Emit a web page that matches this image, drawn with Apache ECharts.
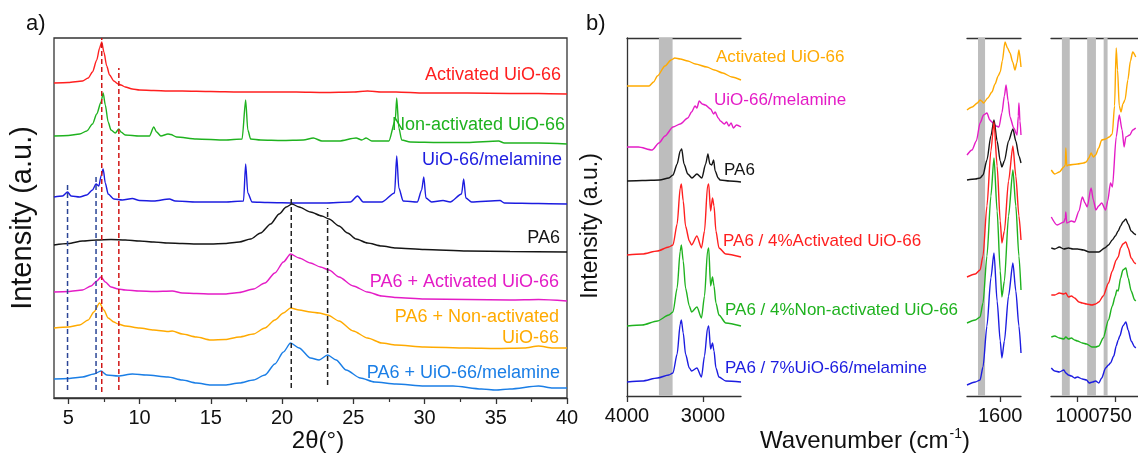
<!DOCTYPE html>
<html>
<head>
<meta charset="utf-8">
<title>XRD and FTIR of PA6 / UiO-66</title>
<script src="https://cdn.jsdelivr.net/npm/echarts@6/dist/echarts.min.js"></script>
<style>
  html, body { margin: 0; padding: 0; background: #fff; }
  #chart { width: 1138px; height: 455px; }
</style>
</head>
<body>
<div id="chart"></div>
<script>
// ---------- a) XRD patterns: [2θ, stacked intensity] ----------
const xrdActivated = [[4,315],[5,315.5],[6,317],[6.4,320],[6.7,326],[7.0,338],[7.2,350],[7.35,356],[7.5,346],[7.7,332],[7.9,323],[8.2,317],[8.5,314],[8.7,313],[9,311],[9.5,309],[10,308],[11,307.5],[12,307],[13,307],[15,306.5],[17,306],[19,306],[21,306],[23,305.5],[25,306],[26,307],[27,306],[28,306],[30,305],[33,305],[36,304.5],[38,304.5],[40,304]];
const xrdNonActivated = [[4,262],[5,262.5],[5.8,264],[6.3,267],[6.7,274],[7.0,284],[7.3,296],[7.45,305],[7.6,293],[7.8,276],[8.0,268],[8.3,265],[8.55,269],[8.7,266],[9,263],[10,262],[10.7,262],[11.0,271],[11.2,266],[11.5,262],[12.0,264],[12.2,263.5],[12.6,261],[14,259],[16,258],[17.2,259],[17.45,298],[17.6,268],[17.8,259],[18.5,258],[20,257.5],[21.5,258],[22.2,260],[22.8,257],[24,257],[25.2,260],[25.6,258],[25.9,260],[26.3,257],[27.5,257],[27.95,278],[28.05,300],[28.2,270],[28.4,258],[29,256],[31,255.5],[33,255.5],[35.2,257],[35.6,255],[38,255],[40,254]];
const xrdMelamine = [[4,201],[4.6,202],[4.95,206],[5.2,202],[5.8,201],[6.3,203],[6.7,208],[6.95,214],[7.15,212],[7.3,222],[7.45,229],[7.6,215],[7.8,204],[8.2,199],[8.8,198],[9.5,199.5],[10,197.5],[11,197],[12.1,199],[12.5,197],[14,196],[16,196],[17.3,197],[17.45,234],[17.6,205],[17.9,196],[19,195.5],[21,195],[23,195],[24.8,196],[25.3,202],[25.7,196],[27,196],[27.9,205],[28.05,242],[28.2,210],[28.5,197],[29.5,196],[29.8,208],[29.95,221],[30.1,200],[30.5,196],[31.3,197.5],[31.8,196],[32.6,204],[32.75,219],[32.9,200],[33.3,196],[35.3,197.5],[35.6,195],[38,194.5],[40,194]];
const xrdPA6 = [[4,153],[5,154.5],[6,157],[7,158],[8,158.5],[9,158],[10,157],[11,156],[12,155],[13,154.5],[14,154],[15,154],[16,154.5],[17,156],[17.8,159],[18.5,165],[19.2,174],[19.8,184],[20.3,191],[20.7,194],[21.2,191],[22,186],[22.8,182],[23.3,179],[24,172],[24.6,165],[25.2,159],[26,155],[27,152],[28,150],[30,148.5],[33,147],[36,146.5],[40,146]];
const xrdPA6Activated = [[4,106],[5,106.5],[6,108],[6.6,112],[7.0,117],[7.3,121],[7.6,116],[8,111],[8.5,109],[9,108],[10,107],[11,106.5],[12.3,107],[13,105],[14,104.5],[15,104],[16,104],[17,105.5],[18,109],[18.8,115],[19.5,125],[20.1,136],[20.6,144],[21.2,140],[22,135],[22.7,131],[23.3,128],[24,121],[25,112],[26,106],[27,102],[28,100.5],[30,99],[33,98.5],[36,98],[38,98.5],[40,97]];
const xrdPA6NonActivated = [[4,70],[5,71],[5.8,73],[6.4,78],[6.8,86],[7.2,95],[7.5,88],[7.8,80],[8.2,76],[8.5,74],[9,72],[10,70],[11,68],[12,66.5],[12.3,67],[13,64],[14,61],[15,58],[16,58.5],[17,61],[18,64],[18.8,70],[19.5,78],[20.1,85],[20.6,90],[21.2,88],[22,86],[22.6,85],[23.2,83],[24,77],[25,67],[26,60],[27,55],[28,53],[30,51],[33,50],[35,49.5],[37,50],[38,52],[39,50],[40,50]];
const xrdPA6Melamine = [[4,19],[5,19.5],[6,21],[6.8,24],[7.3,27],[7.7,23],[8.5,22],[9.5,24],[10.5,23],[12,21],[13,18],[14,15],[15,13],[16,13],[17,15],[18,18],[18.8,23],[19.5,34],[20.1,46],[20.6,55],[21.2,50],[22,40],[22.6,38],[23.2,43],[23.8,38],[24.5,28],[25.5,20],[26.5,16],[28,14],[30,12],[32,12],[34,9],[35,8],[36,9],[38,12],[39,10],[40,10]];

// reference positions: [2θ, lower end, upper end]
const refMelamine = [[4.95,8,215],[6.95,8,222]];
const refUiO = [[7.35,6,360],[8.55,8,330]];
const refPA6 = [[20.65,10,200],[23.2,13,190]];

const xrdTicks = [5,10,15,20,25,30,35,40];
const xrdMinorTicks = [7.5,12.5,17.5,22.5,27.5,32.5,37.5];

// ---------- b) FTIR spectra: [wavenumber, stacked intensity] ----------
const irHiActivated = [[4000,310],[3710,310],[3650,314],[3600,320],[3500,330],[3420,336],[3370,338],[3300,337],[3200,335],[3100,332],[2950,329],[2850,326],[2740,323],[2620,319],[2500,316]];
const irHiMelamine = [[4000,249],[3850,249],[3670,246],[3580,253],[3500,260],[3395,269],[3300,272],[3200,278],[3150,284],[3105,290],[3080,288],[3050,295],[3010,292],[2970,291],[2900,287],[2860,282],[2840,284],[2800,278],[2770,275],[2720,272],[2690,274],[2660,270],[2630,273],[2600,268],[2560,271],[2500,269]];
const irHiPA6 = [[4000,215],[3800,215.5],[3570,216],[3450,218],[3395,221],[3340,232],[3300,245],[3280,247],[3250,232],[3200,222],[3145,218],[3080,222],[3015,218],[2965,232],[2935,242],[2910,232],[2885,231],[2860,236],[2840,225],[2800,218],[2775,216],[2650,215],[2500,214]];
const irHiPA6Act = [[4000,141],[3800,142],[3600,145],[3450,149],[3395,151],[3340,172],[3300,208],[3285,212],[3260,195],[3230,170],[3180,155],[3150,151],[3080,160],[3020,148],[2980,165],[2940,210],[2925,212],[2900,185],[2875,198],[2855,190],[2830,165],[2790,148],[2700,142],[2500,139]];
const irHiPA6NonAct = [[4000,70],[3800,71],[3600,75],[3450,81],[3395,84],[3340,108],[3300,145],[3285,151],[3260,135],[3230,108],[3180,90],[3150,84],[3080,89],[3020,78],[2980,100],[2940,145],[2925,148],[2900,110],[2875,119],[2855,110],[2830,93],[2790,81],[2700,73],[2500,70]];
const irHiPA6Mel = [[4000,14],[3800,15],[3600,18],[3450,21],[3395,23],[3340,42],[3300,72],[3285,76],[3260,63],[3230,42],[3180,28],[3150,25],[3080,28],[3020,19],[2980,40],[2940,68],[2925,70],[2900,47],[2875,53],[2855,45],[2830,28],[2790,19],[2700,15],[2500,14]];

const irMidActivated = [[1760,286],[1735,289],[1710,293],[1697,296],[1690,295],[1680,293],[1660,298],[1640,304],[1625,312],[1610,320],[1600,324],[1590,335],[1577,354],[1565,348],[1553,343],[1540,334],[1529,326],[1520,333],[1510,346],[1500,329]];
const irMidMelamine = [[1760,241],[1736,246],[1715,255],[1697,273],[1680,281],[1664,283],[1650,276],[1640,274],[1620,270],[1606,269],[1592,283],[1580,300],[1572,311],[1562,295],[1553,279],[1535,268],[1519,261],[1513,280],[1510,293],[1505,275],[1500,261]];
const irMidPA6 = [[1760,216],[1720,217],[1697,218],[1683,221],[1664,236],[1645,260],[1630,276],[1615,255],[1600,235],[1592,229],[1580,235],[1560,255],[1539,267],[1525,255],[1510,240],[1500,233]];
const irMidPA6Act = [[1760,119],[1720,122],[1697,126],[1683,140],[1664,190],[1645,245],[1630,274],[1615,230],[1600,175],[1592,153],[1580,165],[1560,215],[1539,250],[1525,220],[1510,180],[1500,156]];
const irMidPA6NonAct = [[1760,73],[1720,76],[1697,79],[1683,93],[1664,140],[1645,200],[1630,238],[1615,185],[1600,125],[1592,99],[1580,115],[1560,180],[1539,226],[1525,190],[1510,140],[1500,106]];
const irMidPA6Mel = [[1760,11],[1720,14],[1697,16],[1683,29],[1664,70],[1645,118],[1630,143],[1615,95],[1600,55],[1592,38],[1580,55],[1560,100],[1539,133],[1525,105],[1510,70],[1500,43]];

const irLowActivated = [[1173,226],[1150,222],[1120,224],[1090,229],[1080,231],[1077,248],[1071,230],[1060,231],[1000,232],[960,233],[942,234],[925,238],[910,243],[895,239],[880,241],[860,248],[840,256],[814,257],[790,259],[770,262],[755,290],[744,348],[735,326],[724,290],[712,284],[700,292],[686,296],[667,316],[650,335],[635,344],[615,339]];
const irLowMelamine = [[1173,179],[1135,171],[1090,174],[1080,178],[1077,184],[1071,173],[1040,175],[1019,174],[990,185],[968,199],[950,193],[936,189],[910,208],[895,196],[878,186],[860,190],[840,193],[814,186],[800,195],[782,213],[769,209],[744,259],[724,281],[705,266],[692,249],[680,259],[654,261],[635,266],[615,268]];
const irLowPA6 = [[1173,148],[1150,147],[1120,149],[1090,147],[1060,148],[1030,147],[1000,147],[960,146],[923,144],[880,144],[859,144],[820,148],[795,151],[770,156],[750,160],[731,165],[715,170],[700,174],[680,177],[665,172],[645,165],[622,162],[615,161]];
const irLowPA6Act = [[1173,101],[1150,101],[1120,103],[1090,102],[1077,103],[1060,99],[1040,100],[1019,98],[990,94],[968,93],[940,92],[904,91],[880,92],[859,94],[830,100],[795,113],[770,125],[744,136],[731,139],[715,148],[700,152],[680,154],[665,148],[645,138],[622,133],[615,132]];
const irLowPA6NonAct = [[1173,59],[1150,60],[1120,58],[1090,57],[1077,59],[1060,57],[1040,58],[1019,56],[1000,55],[968,53],[940,52],[904,49],[880,49],[859,50],[830,58],[795,76],[770,90],[750,100],[740,106],[731,105],[715,118],[700,126],[680,128],[665,118],[645,105],[622,96],[615,95]];
const irLowPA6Mel = [[1173,28],[1150,25],[1120,24],[1090,26],[1077,23],[1060,21],[1040,20],[1019,18],[1000,19],[968,17],[940,16],[923,13],[900,14],[880,15],[859,13],[840,18],[814,28],[795,31],[782,33],[760,40],[744,50],[731,56],[720,60],[700,70],[680,74],[665,66],[645,55],[622,49],[615,48]];

// highlighted wavenumber bands [from, to]
const irBandsHi = [[3580,3400]];
const irBandsMid = [[1707,1673]];
const irBandsLow = [[1103,1051],[936,878],[827,801]];

const irTicksHi = [4000,3000];
const irTicksMid = [1600];
const irTicksLowA = [1000];
const irTicksLowB = [750];

// ---------- styling ----------
const FONT = '"Liberation Sans", Arial, Helvetica, sans-serif';
const AXIS = '#333';
const C = {
  red: '#ff1f1f', green: '#1fb21f', blue: '#1c1ce0', black: '#151515',
  magenta: '#e41cc6', orange: '#ffaa00', sky: '#1a7ee6'
};

function line(data, color, xi, yi, width) {
  return {
    type: 'line', data: data, xAxisIndex: xi, yAxisIndex: yi,
    symbol: 'none', smooth: 0.25, smoothMonotone: 'x', silent: true, clip: true,
    lineStyle: { color: color, width: width || 1.4 }, z: 3
  };
}
function refLines(list, color) {
  return list.map(function (r) {
    return {
      type: 'line', xAxisIndex: 0, yAxisIndex: 0, symbol: 'none', silent: true, z: 4,
      data: [[r[0], r[1]], [r[0], r[2]]],
      lineStyle: { color: color, width: 1.5, type: [5, 3] }
    };
  });
}
function bands(list, xi, yi) {
  return {
    type: 'line', data: [], xAxisIndex: xi, yAxisIndex: yi, silent: true,
    markArea: {
      silent: true,
      itemStyle: { color: '#bdbdbd' },
      data: list.map(function (b) { return [{ xAxis: b[0] }, { xAxis: b[1] }]; })
    }
  };
}
function bottomAxis(grid, min, max, ticks, inverse, showLine) {
  return {
    type: 'value', gridIndex: grid, position: 'bottom', min: min, max: max, inverse: !!inverse,
    axisLine: { show: showLine !== false, lineStyle: { color: AXIS, width: 1.3 } },
    axisTick: { show: true, customValues: ticks, length: 6, inside: false, lineStyle: { color: AXIS, width: 1.3 } },
    axisLabel: {
      show: true, customValues: ticks, fontSize: 20, color: '#111', fontFamily: FONT, margin: 10,
      hideOverlap: false, showMinLabel: true, showMaxLabel: true,
      formatter: function (v) { return String(v); }
    },
    splitLine: { show: false }
  };
}
function topLine(grid, min, max, inverse) {
  return {
    type: 'value', gridIndex: grid, position: 'top', min: min, max: max, inverse: !!inverse,
    axisLine: { show: true, lineStyle: { color: AXIS, width: 1.3 } },
    axisTick: { show: false }, axisLabel: { show: false }, splitLine: { show: false }
  };
}
function yPlain(grid, max, showLine) {
  return {
    type: 'value', gridIndex: grid, min: 0, max: max,
    axisLine: { show: !!showLine, lineStyle: { color: AXIS, width: 1.3 } },
    axisTick: { show: false }, axisLabel: { show: false }, splitLine: { show: false }
  };
}
function txt(x, y, s, color, size, align, extra) {
  return Object.assign({
    type: 'text', x: x, y: y, silent: true,
    style: { text: s, fill: color, fontSize: size, fontFamily: FONT, align: align || 'left', verticalAlign: 'middle' }
  }, extra || {});
}

const chart = echarts.init(document.getElementById('chart'), null, { renderer: 'canvas' });

const option = {
  animation: false,
  backgroundColor: '#ffffff',
  grid: [
    { left: 54, top: 38, width: 513, height: 360, show: true, borderColor: AXIS, borderWidth: 1.3, backgroundColor: 'transparent' },
    { left: 627, top: 38, width: 114, height: 358 },
    { left: 967, top: 38, width: 54, height: 358 },
    { left: 1051, top: 38, width: 90, height: 358 }
  ],
  xAxis: [
    bottomAxis(0, 4, 40, xrdTicks, false),
    {
      type: 'value', gridIndex: 0, position: 'bottom', min: 4, max: 40,
      axisLine: { show: false },
      axisTick: { show: true, customValues: xrdMinorTicks, length: 4, lineStyle: { color: AXIS, width: 1.2 } },
      axisLabel: { show: false }, splitLine: { show: false }
    },
    bottomAxis(1, 2500, 4000, irTicksHi, true),
    topLine(1, 2500, 4000, true),
    bottomAxis(2, 1500, 1760, irTicksMid, true),
    topLine(2, 1500, 1760, true),
    bottomAxis(3, 600, 1175, irTicksLowA, true),
    topLine(3, 600, 1175, true),
    bottomAxis(3, 600, 1175, irTicksLowB, true, false)
  ],
  yAxis: [
    yPlain(0, 360, false),
    yPlain(1, 358, true),
    yPlain(2, 358, false),
    yPlain(3, 358, false)
  ],
  series: [].concat(
    [
      line(xrdActivated, C.red, 0, 0),
      line(xrdNonActivated, C.green, 0, 0),
      line(xrdMelamine, C.blue, 0, 0),
      line(xrdPA6, C.black, 0, 0),
      line(xrdPA6Activated, C.magenta, 0, 0),
      line(xrdPA6NonActivated, C.orange, 0, 0),
      line(xrdPA6Melamine, C.sky, 0, 0)
    ],
    refLines(refMelamine, '#2b4596'),
    refLines(refUiO, '#d01515'),
    refLines(refPA6, '#222222'),
    [
      bands(irBandsHi, 2, 1),
      line(irHiActivated, C.orange, 2, 1),
      line(irHiMelamine, C.magenta, 2, 1),
      line(irHiPA6, C.black, 2, 1),
      line(irHiPA6Act, C.red, 2, 1),
      line(irHiPA6NonAct, C.green, 2, 1),
      line(irHiPA6Mel, C.blue, 2, 1),

      bands(irBandsMid, 4, 2),
      line(irMidActivated, C.orange, 4, 2),
      line(irMidMelamine, C.magenta, 4, 2),
      line(irMidPA6, C.black, 4, 2),
      line(irMidPA6Act, C.red, 4, 2),
      line(irMidPA6NonAct, C.green, 4, 2),
      line(irMidPA6Mel, C.blue, 4, 2),

      bands(irBandsLow, 6, 3),
      line(irLowActivated, C.orange, 6, 3),
      line(irLowMelamine, C.magenta, 6, 3),
      line(irLowPA6, C.black, 6, 3),
      line(irLowPA6Act, C.red, 6, 3),
      line(irLowPA6NonAct, C.green, 6, 3),
      line(irLowPA6Mel, C.blue, 6, 3)
    ]
  ),
  graphic: [
    // panel tags
    txt(26, 24, 'a)', '#111', 22),
    txt(586, 24, 'b)', '#111', 22),
    // axis titles
    txt(23, 218, 'Intensity (a.u.)', '#111', 29, 'center', { rotation: Math.PI / 2 }),
    txt(318, 441, '2θ(°)', '#111', 24, 'center'),
    txt(591, 226, 'Intensity (a.u.)', '#111', 23, 'center', { rotation: Math.PI / 2 }),
    {
      type: 'text', x: 865, y: 441, silent: true,
      style: {
        text: '{m|Wavenumber (cm}{s|-1}{m|)}', align: 'center', verticalAlign: 'middle',
        fontFamily: FONT, fill: '#111',
        rich: {
          m: { fontSize: 24, fontFamily: FONT, fill: '#111', lineHeight: 28 },
          s: { fontSize: 14, fontFamily: FONT, fill: '#111', lineHeight: 28, verticalAlign: 'top', padding: [0, 0, 0, 1] }
        }
      }
    },
    // a) curve names
    txt(561, 75, 'Activated UiO-66', C.red, 18, 'right'),
    txt(565, 125, 'Non-activated UiO-66', C.green, 18, 'right'),
    txt(562, 160, 'UiO-66/melamine', C.blue, 18, 'right'),
    txt(560, 238, 'PA6', C.black, 18, 'right'),
    txt(559, 282, 'PA6 + Activated UiO-66', C.magenta, 18, 'right'),
    txt(559, 317, 'PA6 + Non-activated', C.orange, 18, 'right'),
    txt(559, 338, 'UiO-66', C.orange, 18, 'right'),
    txt(560, 373, 'PA6 + UiO-66/melamine', C.sky, 18, 'right'),
    // b) curve names
    txt(716, 57, 'Activated UiO-66', C.orange, 17),
    txt(714, 100, 'UiO-66/melamine', C.magenta, 17),
    txt(724, 170, 'PA6', C.black, 17),
    txt(723, 241, 'PA6 / 4%Activated UiO-66', C.red, 17),
    txt(725, 310, 'PA6 / 4%Non-activated UiO-66', C.green, 17),
    txt(725, 368, 'PA6 / 7%UiO-66/melamine', C.blue, 17)
  ]
};

chart.setOption(option);
</script>
</body>
</html>
